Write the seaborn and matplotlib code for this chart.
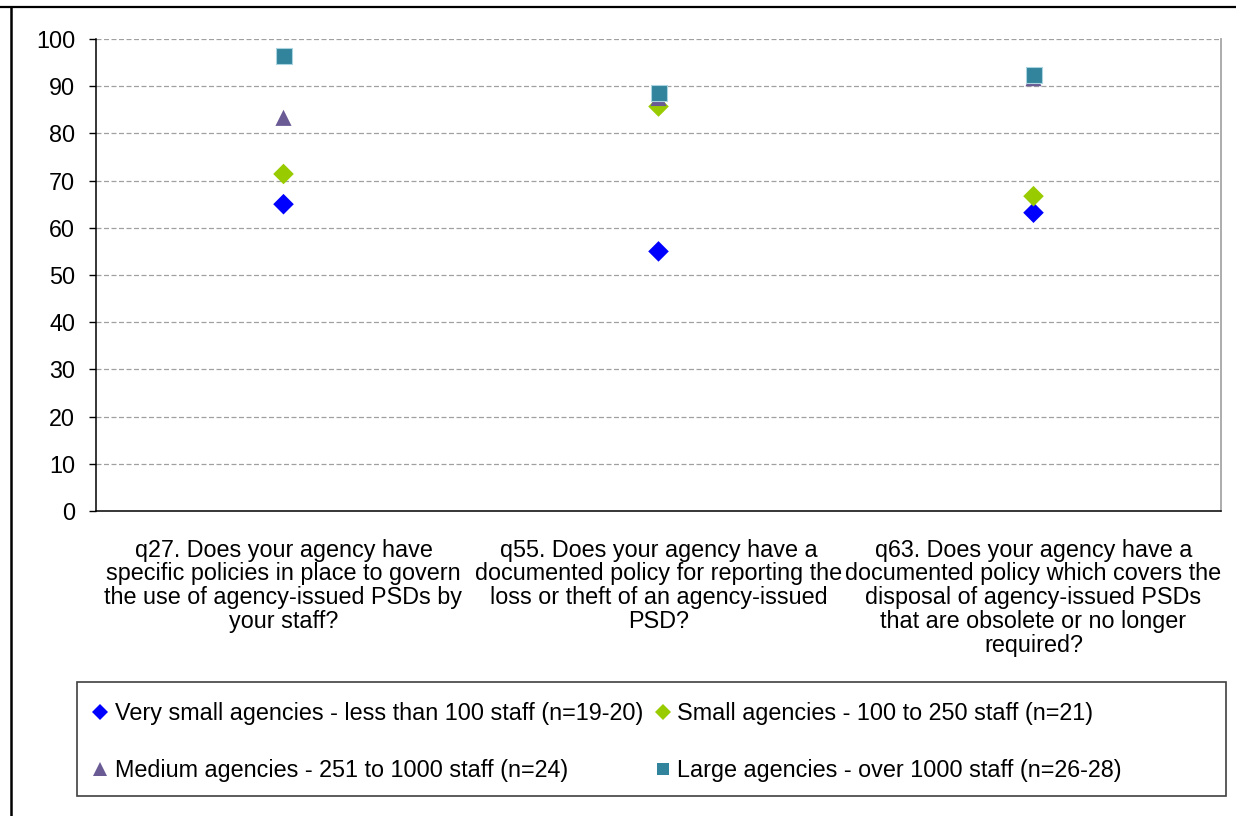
import numpy as np
import pandas as pd
import matplotlib
matplotlib.use("Agg")
import matplotlib.pyplot as plt
from matplotlib.lines import Line2D
from matplotlib.patches import Rectangle
import seaborn as sns

# ---- data -------------------------------------------------------------
questions = ["q27", "q55", "q63"]
question_labels = [
    "q27. Does your agency have\nspecific policies in place to govern\nthe use of agency-issued PSDs by\nyour staff?",
    "q55. Does your agency have a\ndocumented policy for reporting the\nloss or theft of an agency-issued\nPSD?",
    "q63. Does your agency have a\ndocumented policy which covers the\ndisposal of agency-issued PSDs\nthat are obsolete or no longer\nrequired?",
]
groups = [
    "Very small agencies - less than 100 staff (n=19-20)",
    "Small agencies - 100 to 250 staff (n=21)",
    "Medium agencies - 251 to 1000 staff (n=24)",
    "Large agencies - over 1000 staff (n=26-28)",
]
very_small = [65.0, 55.0, 63.2]
small = [71.4, 85.7, 66.7]
medium = [83.3, 87.5, 91.7]
large = [96.4, 88.5, 92.3]
y_ticks = [0, 10, 20, 30, 40, 50, 60, 70, 80, 90, 100]

# ---- styling per series --------------------------------------------------
colors = ["#0000FF", "#99CC00", "#6B5B95", "#31849B"]
markers = ["D", "D", "^", "s"]
sizes = [110, 110, 135, 125]
edges = ["none", "none", "none", "#A9D4E0"]
legend_ms = [8.0, 8.0, 10.5, 9.0]
FS = 16.8

df = pd.DataFrame({
    "question": np.tile(questions, 4),
    "value": very_small + small + medium + large,
    "group": np.repeat(groups, 3),
})

sns.set_theme(style="white")
plt.rcParams["font.family"] = ["Liberation Sans", "DejaVu Sans"]

fig = plt.figure(figsize=(12.36, 8.16), dpi=100)
ax = fig.add_axes([96 / 1236, 1 - 511 / 816, (1221 - 96) / 1236, (511 - 39) / 816])

for g, c, m, s, e in zip(groups, colors, markers, sizes, edges):
    sub = df[df["group"] == g]
    sns.scatterplot(data=sub, x="question", y="value", color=c, marker=m,
                    s=s, edgecolor=e, linewidth=0.8 if e != "none" else 0,
                    ax=ax, legend=False, zorder=3)

ax.set_xlim(-0.5, 2.5)
ax.set_ylim(0, 100)
ax.set_yticks(y_ticks)
ax.set_xticks(range(len(questions)))
ax.set_xticklabels(question_labels, fontsize=FS, color="#000000",
                   linespacing=1.04, va="top")
ax.tick_params(axis="x", length=0, pad=20)
ax.tick_params(axis="y", labelsize=FS, labelcolor="#000000", length=5,
               width=1, color="#000000", direction="out", pad=10, left=True)
ax.set_xlabel("")
ax.set_ylabel("")

for yv in y_ticks[1:]:
    ax.axhline(yv, color="#A0A0A0", linestyle=(0, (4, 2)), linewidth=0.9,
               zorder=1)

ax.spines["left"].set_color("#000000")
ax.spines["bottom"].set_color("#000000")
ax.spines["left"].set_linewidth(1.1)
ax.spines["bottom"].set_linewidth(1.1)
ax.spines["top"].set_visible(False)
ax.spines["right"].set_color("#A6A6A6")
ax.spines["right"].set_linewidth(1.3)

# outer frame lines of the exhibit
fig.add_artist(Line2D([0, 1], [1 - 7 / 816, 1 - 7 / 816],
                      transform=fig.transFigure, color="#000000", linewidth=1.6))
fig.add_artist(Line2D([11 / 1236, 11 / 1236], [0, 1 - 7 / 816],
                      transform=fig.transFigure, color="#000000", linewidth=1.8))

# legend box
fig.add_artist(Rectangle((77 / 1236, 1 - 796 / 816), (1226 - 77) / 1236,
                         (796 - 682) / 816, transform=fig.transFigure,
                         facecolor="white", edgecolor="#404040", linewidth=1.2))

# legend entries laid out row by row (matplotlib fills columns first)
order = [0, 2, 1, 3]
handles = [Line2D([], [], linestyle="none", marker=markers[i], color=colors[i],
                  markersize=legend_ms[i], markeredgewidth=0) for i in order]
labels = [groups[i] for i in order]
fig.legend(handles, labels, ncol=2, frameon=False, loc="upper left",
           bbox_to_anchor=(94 / 1236, 1 - 702 / 816), borderaxespad=0,
           borderpad=0, fontsize=FS, handlelength=0.5, handletextpad=0.38,
           columnspacing=0.6, labelspacing=1.45, labelcolor="#000000")

fig.savefig("out.png", dpi=100, facecolor="white")
